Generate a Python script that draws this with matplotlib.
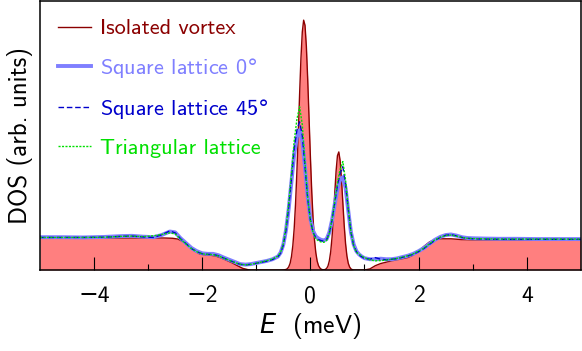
import numpy as np
import matplotlib
matplotlib.use('Agg')
import matplotlib.pyplot as plt

plt.rcParams['font.family'] = ['cmss10', 'DejaVu Sans']
plt.rcParams['mathtext.fontset'] = 'dejavusans'
plt.rcParams['axes.unicode_minus'] = True

# Isolated vortex DOS
E_iso = [-5.0, -4.0, -3.0, -2.7, -2.55, -2.45, -2.35, -2.25, -2.15, -2.05, -1.95,
         -1.85, -1.75, -1.65, -1.55, -1.45, -1.35, -1.25, -1.15, -1.1, -0.55,
         -0.5, -0.475, -0.45, -0.425, -0.4, -0.375, -0.35, -0.325, -0.3, -0.275,
         -0.25, -0.225, -0.2, -0.175, -0.15, -0.125, -0.1, -0.075, -0.05, -0.025,
         0.0, 0.025, 0.05, 0.075, 0.1, 0.125, 0.15, 0.175, 0.2, 0.225, 0.25,
         0.275, 0.3, 0.325, 0.35, 0.375, 0.4, 0.425, 0.45, 0.475, 0.5, 0.525,
         0.55, 0.575, 0.6, 0.625, 0.65, 0.675, 0.7, 0.725, 0.75, 0.775, 0.8,
         0.85, 1.0, 1.1, 1.2, 1.3, 1.4, 1.5, 1.6, 1.7, 1.8, 1.9, 2.0, 2.1, 2.2,
         2.3, 2.4, 2.6, 2.8, 3.0, 4.0, 5.0]
dos_iso = [0.119, 0.119, 0.119, 0.119, 0.118, 0.115, 0.105, 0.090, 0.072, 0.060, 0.056,
           0.055, 0.052, 0.045, 0.036, 0.027, 0.016, 0.006, 0.001, 0.0, 0.0,
           0.0003, 0.001, 0.002, 0.005, 0.012, 0.025, 0.050, 0.091, 0.154, 0.246,
           0.365, 0.505, 0.652, 0.787, 0.885, 0.929, 0.910, 0.832, 0.709, 0.564,
           0.419, 0.290, 0.188, 0.113, 0.064, 0.033, 0.016, 0.0075, 0.003, 0.001, 0.001,
           0.002, 0.006, 0.015, 0.034, 0.068, 0.122, 0.197, 0.285, 0.368, 0.425, 0.439,
           0.406, 0.336, 0.249, 0.165, 0.098, 0.052, 0.025, 0.011, 0.004, 0.0013, 0.0,
           0.0, 0.0, 0.004, 0.016, 0.024, 0.029, 0.034, 0.038, 0.042, 0.046, 0.055, 0.070, 0.088, 0.104,
           0.113, 0.116, 0.116, 0.113, 0.112, 0.111, 0.111]

# Vortex lattices
E_lat = [-5.0, -4.6, -4.2, -3.8, -3.5, -3.3, -3.1, -2.9, -2.75, -2.6, -2.5, -2.4,
         -2.3, -2.2, -2.1, -2.0, -1.9, -1.8, -1.7, -1.6, -1.5, -1.4, -1.3, -1.2,
         -1.1, -1.0, -0.9, -0.8, -0.7, -0.6, -0.55, -0.5, -0.45, -0.4, -0.35, -0.3,
         -0.25, -0.2, -0.15, -0.1, -0.05, 0.0, 0.05, 0.1, 0.15, 0.2, 0.25, 0.3,
         0.35, 0.4, 0.45, 0.5, 0.55, 0.6, 0.65, 0.7, 0.75, 0.8, 0.85, 0.9, 0.95,
         1.0, 1.1, 1.2, 1.3, 1.4, 1.5, 1.6, 1.7, 1.8, 1.9, 2.0, 2.1, 2.2, 2.3, 2.4,
         2.5, 2.6, 2.7, 2.8, 2.9, 3.0, 3.2, 3.5, 3.8, 4.2, 4.6, 5.0]
dos_sq0 = [0.122, 0.122, 0.121, 0.123, 0.126, 0.127, 0.124, 0.122, 0.130, 0.143, 0.140, 0.118,
           0.100, 0.082, 0.070, 0.062, 0.060, 0.060, 0.055, 0.046, 0.038, 0.030, 0.022, 0.020,
           0.022, 0.026, 0.030, 0.034, 0.040, 0.050, 0.065, 0.095, 0.150, 0.230, 0.330, 0.430,
           0.495, 0.520, 0.480, 0.380, 0.270, 0.190, 0.145, 0.125, 0.117, 0.112, 0.110, 0.115,
           0.140, 0.185, 0.245, 0.300, 0.338, 0.345, 0.305, 0.220, 0.140, 0.095, 0.070, 0.058, 0.050,
           0.044, 0.040, 0.040, 0.042, 0.040, 0.040, 0.043, 0.048, 0.053, 0.060, 0.070, 0.082, 0.097, 0.112, 0.123,
           0.130, 0.132, 0.128, 0.122, 0.119, 0.118, 0.117, 0.116, 0.116, 0.115, 0.115, 0.115]
dos_sq45 = [0.121, 0.121, 0.121, 0.122, 0.125, 0.126, 0.123, 0.121, 0.131, 0.145, 0.138, 0.116,
            0.098, 0.080, 0.068, 0.060, 0.058, 0.058, 0.053, 0.044, 0.036, 0.028, 0.021, 0.019,
            0.021, 0.025, 0.029, 0.033, 0.039, 0.049, 0.063, 0.093, 0.150, 0.235, 0.340, 0.450,
            0.520, 0.551, 0.500, 0.385, 0.265, 0.185, 0.140, 0.120, 0.113, 0.109, 0.107, 0.113,
            0.138, 0.185, 0.250, 0.315, 0.360, 0.384, 0.320, 0.225, 0.140, 0.092, 0.068, 0.056, 0.049,
            0.043, 0.040, 0.046, 0.040, 0.038, 0.040, 0.042, 0.047, 0.052, 0.058, 0.068, 0.080, 0.095, 0.110, 0.121,
            0.129, 0.131, 0.127, 0.121, 0.118, 0.116, 0.115, 0.114, 0.114, 0.114, 0.114, 0.114]
dos_tri = [0.121, 0.121, 0.121, 0.122, 0.125, 0.126, 0.124, 0.127, 0.132, 0.138, 0.134, 0.114,
           0.097, 0.080, 0.068, 0.060, 0.058, 0.057, 0.052, 0.044, 0.036, 0.028, 0.021, 0.019,
           0.021, 0.025, 0.030, 0.035, 0.041, 0.052, 0.066, 0.098, 0.160, 0.250, 0.360, 0.480,
           0.560, 0.607, 0.540, 0.400, 0.270, 0.185, 0.138, 0.116, 0.108, 0.104, 0.103, 0.110,
           0.137, 0.187, 0.255, 0.325, 0.375, 0.403, 0.335, 0.230, 0.140, 0.090, 0.066, 0.058, 0.052,
           0.046, 0.038, 0.034, 0.035, 0.037, 0.040, 0.043, 0.048, 0.053, 0.060, 0.070, 0.082, 0.097, 0.112, 0.122,
           0.128, 0.130, 0.126, 0.121, 0.118, 0.117, 0.116, 0.115, 0.115, 0.115, 0.115, 0.115]

fig = plt.figure(figsize=(5.82, 3.51), dpi=100)
ax = fig.add_axes([0.0687, 0.2308, 0.9293, 0.7662])

ax.fill_between(E_iso, 0, dos_iso, color='#ff7f7f', lw=0)
ax.plot(E_iso, dos_iso, color='#8b0000', lw=1.0, label='Isolated vortex')
ax.plot(E_lat, dos_sq0, color='#7f7fff', lw=2.8, label=r'Square lattice 0$\degree$')
ax.plot(E_lat, dos_sq45, color='#0000cc', lw=1.0, ls=(0, (4, 2)), label=r'Square lattice 45$\degree$')
ax.plot(E_lat, dos_tri, color='#00e000', lw=1.0, ls=(0, (1.5, 1)), label='Triangular lattice')

ax.set_xlim(-5, 5)
ax.set_ylim(0, 1.0)
ax.set_yticks([])
ax.set_xticks([-4, -2, 0, 2, 4])
ax.set_xticks([-3, -1, 1, 3], minor=True)
ax.tick_params(axis='x', which='major', direction='in', length=9.5, width=0.8, pad=11, labelsize=17)
ax.tick_params(axis='x', which='minor', direction='in', length=4.5, width=0.8)
for s in ax.spines.values():
    s.set_linewidth(1.1)

ax.set_xlabel(r'$E$  (meV)', fontsize=18.5, labelpad=3)
ax.set_ylabel('DOS (arb. units)', fontsize=18, labelpad=5)

leg = ax.legend(loc='upper left', frameon=False, fontsize=16, handlelength=1.5,
                handletextpad=0.4, labelspacing=0.78, borderaxespad=0.4, labelcolor='linecolor')

fig.savefig('out.png', dpi=100)
